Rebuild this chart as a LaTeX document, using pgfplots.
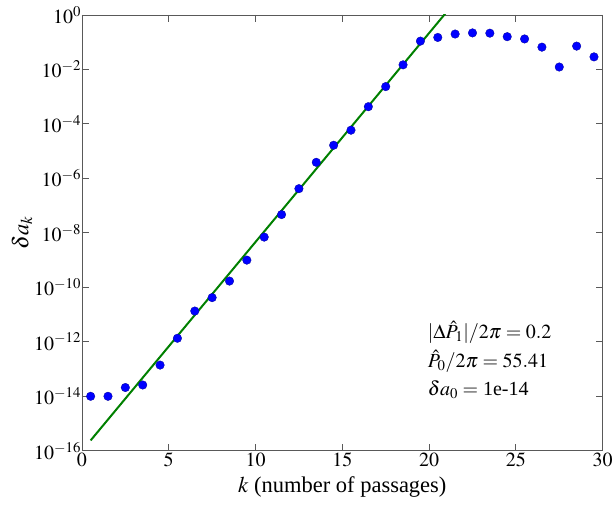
\documentclass[border=0pt]{standalone}
\usepackage{mathptmx}
\usepackage{pgfplots}
\pgfplotsset{compat=1.18}
\usepackage{fontspec}
\setmainfont{Liberation Serif}
\definecolor{mplgreen}{rgb}{0,0.5,0}
\pgfplotstableread{
k val
0.5 1.0e-14
1.5 1.0e-14
2.5 2.1e-14
3.5 2.6e-14
4.5 1.4e-13
5.5 1.35e-12
6.5 1.35e-11
7.5 4.2e-11
8.5 1.7e-10
9.5 1.0e-9
10.5 7.0e-9
11.5 4.7e-8
12.5 4.2e-7
13.5 3.9e-6
14.5 1.65e-5
15.5 5.9e-5
16.5 4.3e-4
17.5 2.35e-3
18.5 1.48e-2
19.5 1.10e-1
20.5 1.5e-1
21.5 2.0e-1
22.5 2.2e-1
23.5 2.15e-1
24.5 1.6e-1
25.5 1.32e-1
26.5 6.6e-2
27.5 1.23e-2
28.5 7.2e-2
29.5 2.9e-2
}\dots
\pgfplotstableread{
k val
0.5 2.4e-16
21.0 1.27e0
}\fitline
\begin{document}
\begin{tikzpicture}
\begin{axis}[
  scale only axis, width=521pt, height=436pt,
  xmin=0, xmax=30, ymin=1e-16, ymax=1,
  ymode=log,
  xtick={0,5,...,30},
  ytick={1e-16,1e-14,1e-12,1e-10,1e-8,1e-6,1e-4,1e-2,1},
  yminorticks=false,
  tick align=inside, tick pos=both,
  xticklabel pos=lower, yticklabel pos=left,
  major tick length=7pt,
  axis line style={black!65, line width=0.9pt},
  tick style={black!65, line width=0.9pt},
  ticklabel style={font=\fontsize{20}{20}\selectfont},
  xticklabel style={yshift=1.5pt},
  yticklabel style={xshift=2.5pt},
  xlabel={$k$ (number of passages)}, ylabel={$\delta a_k$},
  label style={font=\fontsize{22.5}{22.5}\selectfont},
  xlabel style={at={(axis description cs:0.5,-0.0963)}, anchor=base},
  ylabel style={at={(axis description cs:-0.115,0.5)}, anchor=center},
  clip=true,
]
\addplot[mplgreen, line width=2pt] table[x=k,y=val] {\fitline};
\addplot[only marks, mark=*, mark size=4.3pt, blue, mark options={fill=blue, draw=blue!60!black, line width=0.3pt}] table[x=k,y=val] {\dots};
\node[anchor=base west, font=\fontsize{20}{20}\selectfont, inner sep=0pt] at (rel axis cs:0.664,0.257) {$|\Delta\hat{P}_1|/2\pi = 0.2$};
\node[anchor=base west, font=\fontsize{20}{20}\selectfont, inner sep=0pt] at (rel axis cs:0.664,0.190) {$\hat{P}_0/2\pi = 55.41$};
\node[anchor=base west, font=\fontsize{20}{20}\selectfont, inner sep=0pt] at (rel axis cs:0.664,0.126) {$\delta a_0 = $ 1e-14};
\end{axis}
\path (current axis.south west) ++(-82pt,-56pt) rectangle ++(616pt,507pt);
\end{tikzpicture}
\end{document}
